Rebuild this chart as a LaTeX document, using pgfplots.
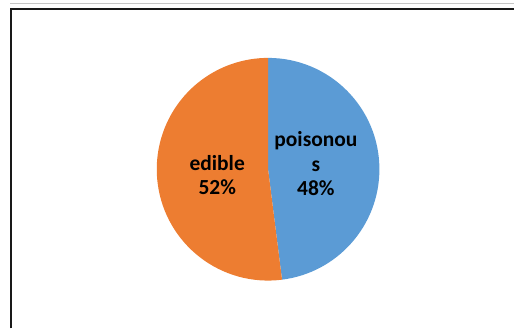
\documentclass[border=0pt]{standalone}
\usepackage{pgfplots}
\usepackage{pgfplotstable}
\usepackage{fontspec}
\setmainfont{Carlito}
\pgfplotsset{compat=1.18}
\pgfplotstableread{
label value
poisonous 48
edible 52
}\piedata
\definecolor{pieblue}{HTML}{5B9BD5}
\definecolor{pieorange}{HTML}{ED7D31}
\begin{document}
\begin{tikzpicture}
\pgfplotstablegetelem{0}{value}\of\piedata \pgfmathsetmacro{\vA}{\pgfplotsretval}
\pgfplotstablegetelem{1}{value}\of\piedata \pgfmathsetmacro{\vB}{\pgfplotsretval}
\pgfmathsetmacro{\dA}{-3.6*\vA}
\pgfmathsetmacro{\dB}{-3.6*\vB}
\pgfmathsetmacro{\eA}{90+\dA}
\begin{axis}[x=111.5bp, y=111.5bp,
  xmin=-2.4081, xmax=2.2108, ymin=-1.4305, ymax=1.5202,
  axis line style={draw=none}, xtick=\empty, ytick=\empty, clip=false]
\fill[pieblue] (axis cs:0,0) -- (axis cs:0,1) arc[start angle=90, delta angle=\dA, radius=111.5bp] -- cycle;
\fill[pieorange] (axis cs:0,0) -- (axis cs:{cos(\eA)},{sin(\eA)}) arc[start angle=\eA, delta angle=\dB, radius=111.5bp] -- cycle;
\draw[gray!45, line width=1bp] (axis cs:-2.318,1.4843) -- (axis cs:2.2108,1.4843);
\draw[black!90, line width=1.6bp] (axis cs:-2.3112,-1.4305) -- (axis cs:-2.3112,1.4377) -- (axis cs:2.2108,1.4377);
\begin{scope}[every node/.style={font=\fontsize{21.5bp}{25bp}\selectfont\bfseries, inner sep=0pt, anchor=base}]
\node at (axis cs:-0.457,-0.009) {edible};
\node at (axis cs:-0.457,-0.2287) {52\%};
\node at (axis cs:0.4296,0.2063) {poisonou};
\node at (axis cs:0.4296,-0.0179) {s};
\node at (axis cs:0.4296,-0.2377) {48\%};
\end{scope}
\end{axis}
\end{tikzpicture}
\end{document}
